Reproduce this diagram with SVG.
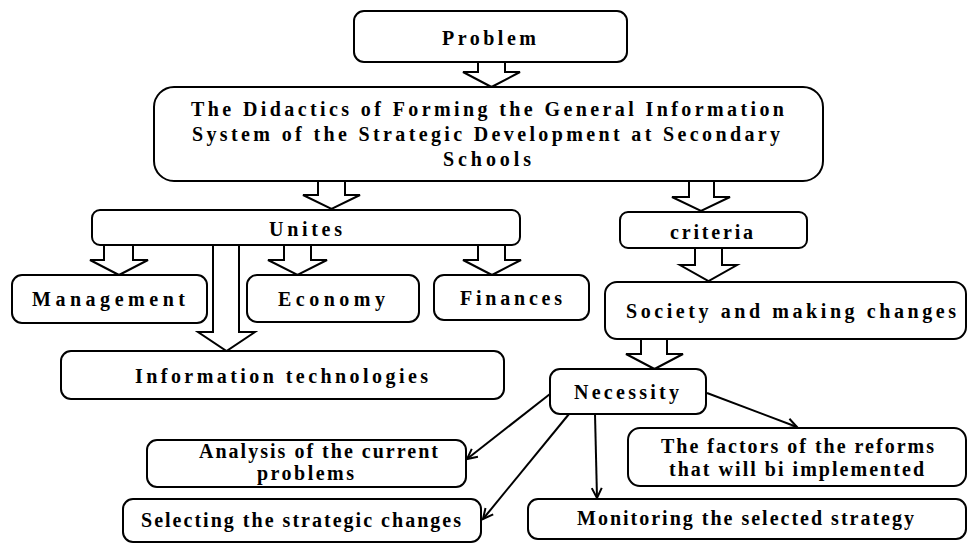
<svg xmlns="http://www.w3.org/2000/svg" width="968" height="544" viewBox="0 0 968 544">
<defs>
<style>
.box{fill:#fff;stroke:#000;stroke-width:2}
.blk{fill:#fff;stroke:#000;stroke-width:2;stroke-linejoin:miter}
.ln{fill:none;stroke:#000;stroke-width:2}
text{font-family:"Liberation Serif","Times New Roman",serif;font-weight:bold;font-size:20px;fill:#000}
</style>
<marker id="ah" markerUnits="userSpaceOnUse" markerWidth="14" markerHeight="14" viewBox="0 0 14 14" refX="12" refY="7" orient="auto">
<path d="M2,2 L12,7 L2,12" fill="none" stroke="#000" stroke-width="2"/>
</marker>
</defs>
<rect width="968" height="544" fill="#fff"/>

<g id="connectors">
<polygon class="blk" points="478,62 505,62 505,72 520,72 491.5,87 463,72 478,72"/>
<polygon class="blk" points="318,181 345,181 345,195 360,195 331.5,209 303,195 318,195"/>
<polygon class="blk" points="689,181 714,181 714,197 730,197 701,211 672,197 689,197"/>
<polygon class="blk" points="104,245 133,245 133,260 148,260 119,275 90,260 104,260"/>
<polygon class="blk" points="284,245 311,245 311,260 327,260 297.5,275 268,260 284,260"/>
<polygon class="blk" points="478,245 505,245 505,260 521,260 492,275 463,260 478,260"/>
<polygon class="blk" points="213,245 239,245 239,332 255,332 226.5,351 198,332 213,332"/>
<polygon class="blk" points="695,248 722,248 722,265 737,265 708.5,281 680,265 695,265"/>
<polygon class="blk" points="641,339 667,339 667,354 683,354 654.5,369 626,354 641,354"/>
<line class="ln" x1="707" y1="393" x2="797" y2="427" marker-end="url(#ah)"/>
<line class="ln" x1="595" y1="414" x2="597" y2="498" marker-end="url(#ah)"/>
<line class="ln" x1="569" y1="414" x2="483" y2="519" marker-end="url(#ah)"/>
<line class="ln" x1="550" y1="394" x2="467" y2="459" marker-end="url(#ah)"/>
</g>

<g id="problem">
<rect class="box" x="354" y="11" width="273" height="51" rx="10"/>
<text x="442" y="45" textLength="94" lengthAdjust="spacing">Problem</text>
</g>
<g id="didactics">
<rect class="box" x="154" y="87" width="669" height="94" rx="20"/>
<text x="191" y="116" textLength="593" lengthAdjust="spacing">The Didactics of Forming the General Information</text>
<text x="192" y="141" textLength="588" lengthAdjust="spacing">System of the Strategic Development at Secondary</text>
<text x="443" y="166" textLength="88" lengthAdjust="spacing">Schools</text>
</g>
<g id="unites">
<rect class="box" x="92" y="210" width="428" height="35" rx="8"/>
<text x="269" y="236" textLength="73" lengthAdjust="spacing">Unites</text>
</g>
<g id="criteria">
<rect class="box" x="620" y="212" width="187" height="36" rx="8"/>
<text x="670" y="238.5" textLength="83" lengthAdjust="spacing">criteria</text>
</g>
<g id="management">
<rect class="box" x="12" y="275" width="195" height="48" rx="10"/>
<text x="32" y="306" textLength="153" lengthAdjust="spacing">Management</text>
</g>
<g id="economy">
<rect class="box" x="247" y="275" width="172" height="47" rx="10"/>
<text x="278" y="306" textLength="107" lengthAdjust="spacing">Economy</text>
</g>
<g id="finances">
<rect class="box" x="434" y="275" width="155" height="45" rx="10"/>
<text x="460" y="305" textLength="102" lengthAdjust="spacing">Finances</text>
</g>
<g id="society">
<rect class="box" x="605" y="282" width="361" height="57" rx="12"/>
<text x="626" y="318" textLength="330" lengthAdjust="spacing">Society and making changes</text>
</g>
<g id="infotech">
<rect class="box" x="61" y="351" width="443" height="48" rx="10"/>
<text x="135" y="383" textLength="293" lengthAdjust="spacing">Information technologies</text>
</g>
<g id="necessity">
<rect class="box" x="550" y="369" width="156" height="45" rx="10"/>
<text x="574" y="399" textLength="105" lengthAdjust="spacing">Necessity</text>
</g>
<g id="analysis">
<rect class="box" x="147" y="440" width="319" height="47" rx="10"/>
<text x="199" y="458" textLength="239" lengthAdjust="spacing">Analysis of the current</text>
<text x="257" y="480" textLength="97" lengthAdjust="spacing">problems</text>
</g>
<g id="factors">
<rect class="box" x="628" y="428" width="338" height="58" rx="12"/>
<text x="661" y="453" textLength="273" lengthAdjust="spacing">The factors of the reforms</text>
<text x="669" y="476" textLength="255" lengthAdjust="spacing">that will bi implemented</text>
</g>
<g id="selecting">
<rect class="box" x="123" y="499" width="358" height="43" rx="10"/>
<text x="141" y="527" textLength="320" lengthAdjust="spacing">Selecting the strategic changes</text>
</g>
<g id="monitoring">
<rect class="box" x="528" y="499" width="438" height="40" rx="10"/>
<text x="577" y="525" textLength="337" lengthAdjust="spacing">Monitoring the selected strategy</text>
</g>
</svg>
